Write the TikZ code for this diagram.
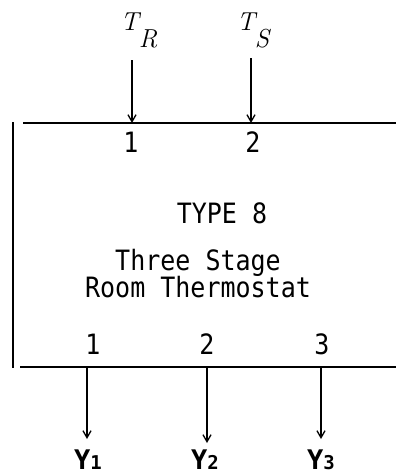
\documentclass[tikz,border=0pt]{standalone}
\usepackage{fontspec}
\setmonofont{DejaVu Sans Mono}
\usetikzlibrary{arrows.meta}
\newfontfamily\labfont{DejaVu Sans Mono}
\begin{document}
\begin{tikzpicture}[x=1pt,y=-1pt,
  boxline/.style={line width=1.7pt},
  sig/.style={line width=1.5pt,-{Straight Barb[length=7pt,width=8pt,line width=1.3pt]}},
  txt/.style={inner sep=0pt,font=\labfont\fontsize{25}{30}\selectfont},
  inlab/.style={inner sep=0pt,font=\fontsize{26}{30}\selectfont\itshape},
  outlab/.style={inner sep=0pt,font=\labfont\bfseries\fontsize{27}{30}\selectfont}]
\useasboundingbox (0,0) rectangle (396,475);
% box edges
\coordinate (tl) at (23,123);
\coordinate (tr) at (396,123);
\coordinate (bl) at (20,367);
\coordinate (br) at (396,367);
\coordinate (vt) at (13,122);
\coordinate (vb) at (13,368);
\draw[boxline] (tl) -- (tr);
\draw[boxline] (bl) -- (br);
\draw[boxline] (vt) -- (vb);
% inputs
\node[inlab] (TR) at (139,30) {T\raisebox{-17pt}{R}};
\node[inlab] (TS) at (253,30) {T\raisebox{-17pt}{S}};
\coordinate (a1s) at (132,60);
\coordinate (a1e) at (132,123);
\coordinate (a2s) at (251,58);
\coordinate (a2e) at (251,123);
\draw[sig] (a1s) -- (a1e);
\draw[sig] (a2s) -- (a2e);
\node[txt] (i1) at (131,142) {\scalebox{1}[1.12]{1}};
\node[txt] (i2) at (253,142) {\scalebox{1}[1.12]{2}};
% titles
\node[txt] (type) at (222,213) {\scalebox{1}[1.12]{TYPE 8}};
\node[txt,anchor=base] (l1) at (198,270) {\scalebox{1}[1.12]{Three Stage}};
\node[txt,anchor=base] (l2) at (198,297) {\scalebox{1}[1.12]{Room Thermostat}};
% outputs
\node[txt] (o1) at (93,344) {\scalebox{1}[1.12]{1}};
\node[txt] (o2) at (207,344) {\scalebox{1}[1.12]{2}};
\node[txt] (o3) at (322,344) {\scalebox{1}[1.12]{3}};
\coordinate (b1s) at (87,367);
\coordinate (b1e) at (87,439);
\coordinate (b2s) at (207,367);
\coordinate (b2e) at (207,443);
\coordinate (b3s) at (321,367);
\coordinate (b3e) at (321,439);
\draw[sig] (b1s) -- (b1e);
\draw[sig] (b2s) -- (b2e);
\draw[sig] (b3s) -- (b3e);
\node[outlab] (y1) at (88,460) {Y{\fontsize{19}{22}\selectfont 1}};
\node[outlab] (y2) at (205,460) {Y{\fontsize{19}{22}\selectfont 2}};
\node[outlab] (y3) at (321,460) {Y{\fontsize{19}{22}\selectfont 3}};
\end{tikzpicture}
\end{document}
